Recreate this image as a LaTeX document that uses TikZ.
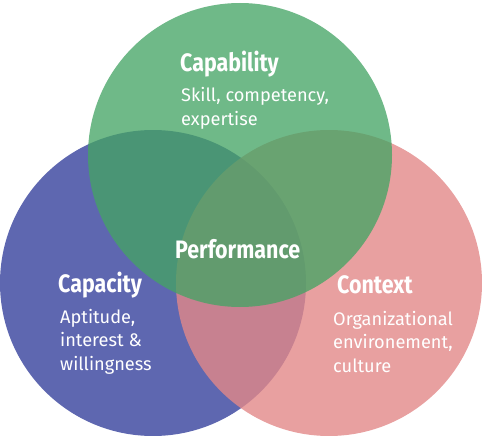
\documentclass[tikz,border=0pt]{standalone}
\usepackage{fontspec}
\setmainfont{Fira Sans}
\newfontfamily\titlefont[FakeStretch=0.85]{Fira Sans Bold}
\definecolor{cblue}{RGB}{94,103,176}
\definecolor{cpink}{RGB}{226,136,136}
\definecolor{cgreen}{RGB}{68,164,100}
\begin{document}
\begin{tikzpicture}[x=1pt,y=-1pt,
  title/.style={text=white,inner sep=0pt,anchor=base west,font=\titlefont\fontsize{25.2}{26}\selectfont},
  body/.style={text=white,inner sep=0pt,anchor=base west,font=\fontsize{18.2}{22}\selectfont}]
\useasboundingbox (0,0) rectangle (482,436);
\fill[cblue] (153,283) circle[radius=153];
\fill[cpink,fill opacity=0.8] (329,283) circle[radius=153];
\fill[cgreen,fill opacity=0.77] (240,155) circle[radius=152];
\node[title] (capab) at (180,71) {Capability};
\node[body] (capab1) at (181,102) {Skill, competency,};
\node[body] (capab2) at (181,125.5) {expertise};
\node[title] (capac) at (58,292) {Capacity};
\node[body] (capac1) at (60,323) {Aptitude,};
\node[body] (capac2) at (60,346.5) {interest \&};
\node[body] (capac3) at (60,370) {willingness};
\node[title] (ctx) at (337,293) {Context};
\node[body] (ctx1) at (333,325) {Organizational};
\node[body] (ctx2) at (333,348.5) {environement,};
\node[body] (ctx3) at (333,372) {culture};
\node[title] (perf) at (175,258) {Performance};
\end{tikzpicture}
\end{document}
